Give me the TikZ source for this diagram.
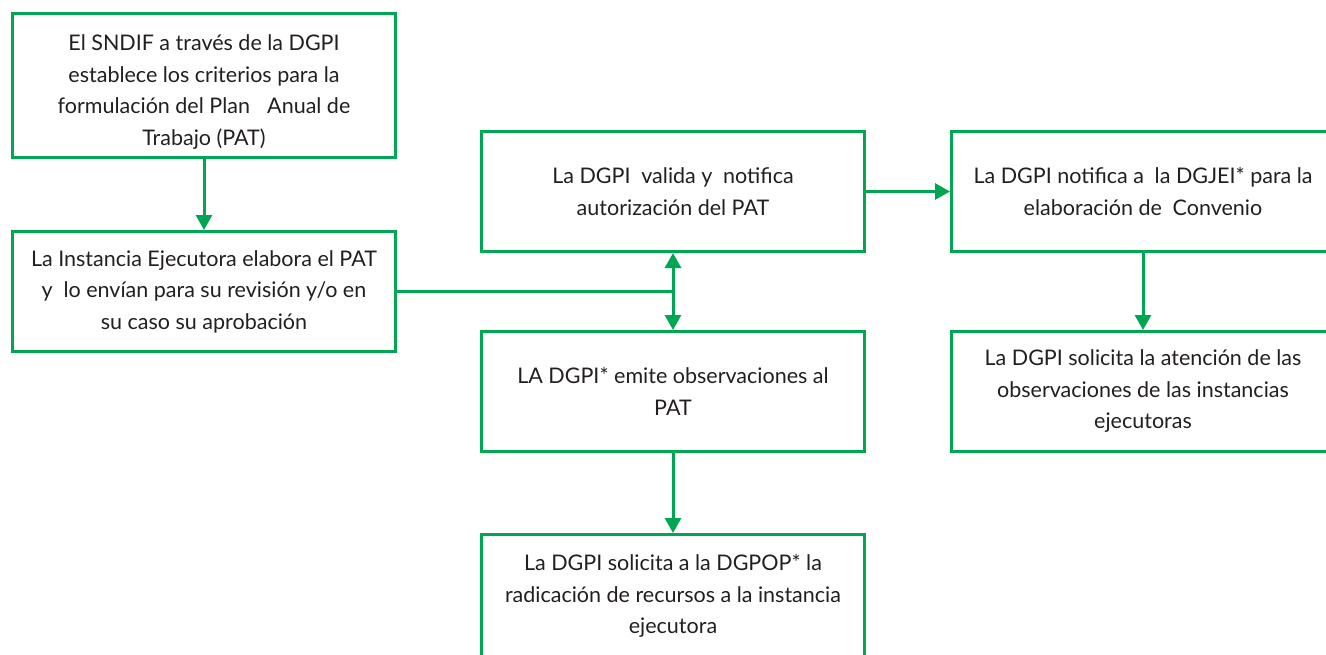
\documentclass[tikz,border=0pt]{standalone}
\usepackage{fontspec}
\setmainfont{Lato}
\usetikzlibrary{arrows.meta}
\definecolor{flowgreen}{RGB}{0,166,81}
\definecolor{flowtext}{RGB}{35,31,32}
\tikzset{
  flowbox/.style={draw=flowgreen, line width=3pt, rectangle, minimum width=383pt,
    minimum height=120pt, align=center, text=flowtext, inner sep=0pt,
    font=\fontsize{21.5}{31.5}\selectfont},
  flowlabel/.style={align=center, text=flowtext, inner sep=0pt,
    font=\fontsize{21.5}{31.5}\selectfont},
  flowline/.style={draw=flowgreen, line width=3pt},
  flowarrow/.style={flowline, -{Triangle[length=15pt,width=16pt]}},
  flowboth/.style={flowline, {Triangle[length=15pt,width=16pt]}-{Triangle[length=15pt,width=16pt]}}
}
\begin{document}
\begin{tikzpicture}[x=1pt,y=-1pt]
\useasboundingbox (0,0) rectangle (1326,654);
\node[flowbox, minimum height=144pt] (a) at (204,85.5) {};
\node[flowlabel] (atext) at (204,92) {El SNDIF a través de la DGPI\\establece los criterios para la\\formulación del Plan\hspace{0.8em}Anual de\\Trabajo (PAT)};
\node[flowbox] (b) at (204,291.5) {La Instancia Ejecutora elabora el PAT\\y\hspace{0.5em}lo envían para su revisión y/o en\\su caso su aprobación};
\node[flowbox] (c) at (673,191.5) {La DGPI\hspace{0.5em}valida y\hspace{0.5em}notifica\\autorización del PAT};
\node[flowbox] (d) at (673,391.5) {LA DGPI* emite observaciones al\\PAT};
\node[flowbox, minimum height=140pt] (e) at (673,604.5) {};
\node[flowlabel] (etext) at (673,596) {La DGPI solicita a la DGPOP* la\\radicación de recursos a la instancia\\ejecutora};
\node[flowbox] (f) at (1143,191.5) {La DGPI notifica a\hspace{0.5em}la DGJEI* para la\\elaboración de\hspace{0.5em}Convenio};
\node[flowbox] (g) at (1143,391.5) {La DGPI solicita la atención de las\\observaciones de las instancias\\ejecutoras};
\coordinate (j) at (c.south |- b.east);
\draw[flowarrow] (a.south) -- (b.north);
\draw[flowline] (b.east) -- (j);
\draw[flowboth] (c.south) -- (d.north);
\draw[flowarrow] (c.east) -- (f.west);
\draw[flowarrow] (f.south) -- (g.north);
\draw[flowarrow] (d.south) -- (e.north);
\end{tikzpicture}
\end{document}
